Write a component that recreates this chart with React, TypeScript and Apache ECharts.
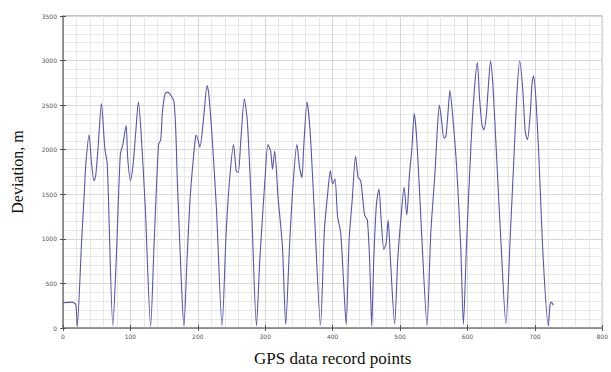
import React, { useEffect, useRef } from "react";
import * as echarts from "echarts";

const xValues: number[] = [
  0, 13, 19, 21, 27.5, 32, 34, 38.7, 42, 46, 48.5, 52, 57, 62, 65.7, 74,
  79, 85, 88.7, 93.6, 96, 100, 104, 108, 111.8, 115.7, 122, 130,
  135, 141.7, 145, 147.5, 151.5, 155, 164.7, 169.6, 176, 179.4,
  184, 189, 196.6, 198, 203, 209, 213.7, 216, 221, 227.5, 236,
  242, 247, 253, 257, 260, 263.7, 269, 273.5, 280, 287,
  292, 299.5, 304, 308, 310.8, 314, 319, 325.5, 330.4,
  336, 341, 347, 351, 354.4, 357, 362, 366.6, 373, 382,
  387.8, 392.6, 396.6, 400, 403.4, 407.4, 412, 416, 420,
  424.5, 429, 434, 437.8, 441.6, 444, 447.5, 451.5, 455, 458,
  461, 465, 468.7, 472, 476, 479.4, 482.4, 485.7, 492,
  496.6, 501.5, 506, 510, 514, 517.6, 521, 525, 532, 540,
  545.6, 552, 555.4, 558.4, 561.8, 565, 568, 571.6, 574, 578, 584, 590, 594,
  598.5, 605, 610, 614.7, 618, 621.6, 624.5, 628, 630.4, 634.3, 637.8, 642.6, 650, 657,
  663.7, 669.6, 673.5, 677.5, 682, 685.7, 689, 693, 695.6, 698, 701.5, 706, 712.7, 720,
  722.5, 724.5, 727.5,
];

const yValues: number[] = [
  284, 290, 260, 15, 953, 1579, 1855, 2168, 1873, 1652, 1708, 2020, 2517, 2020, 1836, 25,
  773, 1947, 2057, 2271, 1910, 1652, 1836, 2205, 2536, 2205, 1358, 15,
  916, 2057, 2112, 2425, 2628, 2646, 2536, 1652, 441, 20,
  773, 1505, 2149, 2160, 2028, 2388, 2719, 2646, 2167, 1358, 25,
  1063, 1652, 2057, 1763, 1744, 2094, 2572, 2315, 1284, 25,
  770, 1652, 2057, 1984, 1781, 1984, 1468, 916, 40,
  916, 1579, 2057, 1800, 1689, 2020, 2536, 2205, 1284, 35,
  1100, 1505, 1763, 1615, 1671, 1248, 1063, 549, 40,
  990, 1432, 1929, 1689, 1652, 1505, 1266, 1211, 732, 20,
  770, 1395, 1560, 1211, 880, 953, 1211, 770, 45,
  770, 1248, 1579, 1266, 1726, 2020, 2406, 2094, 1063, 30,
  1063, 1763, 2241, 2499, 2315, 2131, 2149, 2462, 2664, 2388, 1800, 916, 40,
  916, 2020, 2646, 2977, 2572, 2278, 2222, 2388, 2646, 2995, 2719, 2020, 916, 45,
  1063, 2020, 2646, 2995, 2683, 2205, 2112, 2388, 2719, 2830, 2572, 1910, 732, 25,
  254, 290, 254,
];

const xTicks: number[] = [0, 100, 200, 300, 400, 500, 600, 700, 800];
const yTicks: number[] = [0, 500, 1000, 1500, 2000, 2500, 3000, 3500];

const xTitle = "GPS data record points";
const yTitle = "Deviation, m";

export default function App() {
  const ref = useRef<HTMLDivElement>(null);
  useEffect(() => {
    if (!ref.current) return;
    const chart = echarts.init(ref.current, null, { renderer: "svg" });
    const data = xValues.map((x, i) => [x, yValues[i]]);
    const gridColor = "#d6d6d6";
    const minorColor = "#e8e8e8";
    const axisLineColor = "#8a8a8a";
    const labelStyle = {
      fontSize: 6,
      color: "#555",
      fontFamily: "DejaVu Sans",
      formatter: (v: number) => String(v),
    };
    chart.setOption({
      animation: false,
      backgroundColor: "#ffffff",
      grid: {
        left: 63,
        top: 16,
        width: 544,
        height: 317,
        show: true,
        borderColor: axisLineColor,
        borderWidth: 1,
      },
      xAxis: [
        {
          type: "value",
          min: xTicks[0],
          max: xTicks[xTicks.length - 1],
          interval: 100,
          position: "bottom",
          name: xTitle,
          nameLocation: "middle",
          nameGap: 22,
          nameTextStyle: { fontSize: 17, color: "#111", fontFamily: "Liberation Serif" },
          axisLine: { show: true, lineStyle: { color: axisLineColor, width: 1.5 } },
          axisTick: { show: true, inside: true, length: 3, lineStyle: { color: "#555" } },
          axisLabel: { ...labelStyle, margin: 5 },
          splitLine: { show: true, lineStyle: { color: gridColor, width: 1 } },
          minorTick: { show: false, splitNumber: 5 },
          minorSplitLine: { show: true, lineStyle: { color: minorColor, width: 1 } },
        },
        {
          type: "value",
          min: xTicks[0],
          max: xTicks[xTicks.length - 1],
          interval: 100,
          position: "top",
          axisLine: { show: true, lineStyle: { color: axisLineColor } },
          axisTick: { show: true, inside: true, length: 3, lineStyle: { color: "#555" } },
          axisLabel: { show: false },
          splitLine: { show: false },
        },
      ],
      yAxis: [
        {
          type: "value",
          min: yTicks[0],
          max: yTicks[yTicks.length - 1],
          interval: 500,
          position: "left",
          name: yTitle,
          nameLocation: "middle",
          nameGap: 38,
          nameTextStyle: { fontSize: 16, color: "#111", fontFamily: "Liberation Serif" },
          axisLine: { show: true, lineStyle: { color: axisLineColor, width: 1.5 } },
          axisTick: { show: true, inside: true, length: 3, lineStyle: { color: "#555" } },
          axisLabel: { ...labelStyle, margin: 6 },
          splitLine: { show: true, lineStyle: { color: gridColor, width: 1 } },
          minorTick: { show: false, splitNumber: 5 },
          minorSplitLine: { show: true, lineStyle: { color: minorColor, width: 1 } },
        },
        {
          type: "value",
          min: yTicks[0],
          max: yTicks[yTicks.length - 1],
          interval: 500,
          position: "right",
          axisLine: { show: true, lineStyle: { color: axisLineColor } },
          axisTick: { show: true, inside: true, length: 3, lineStyle: { color: "#555" } },
          axisLabel: { show: false },
          splitLine: { show: false },
        },
      ],
      series: [
        {
          type: "line",
          data,
          xAxisIndex: 0,
          yAxisIndex: 0,
          showSymbol: false,
          smooth: 0.25,
          lineStyle: { color: "#5656ad", width: 1.1 },
        },
      ],
    });
    return () => chart.dispose();
  }, []);
  return (
    <div
      ref={ref}
      style={{ position: "fixed", left: 0, top: 0, width: 611, height: 372, background: "#fff" }}
    />
  );
}
